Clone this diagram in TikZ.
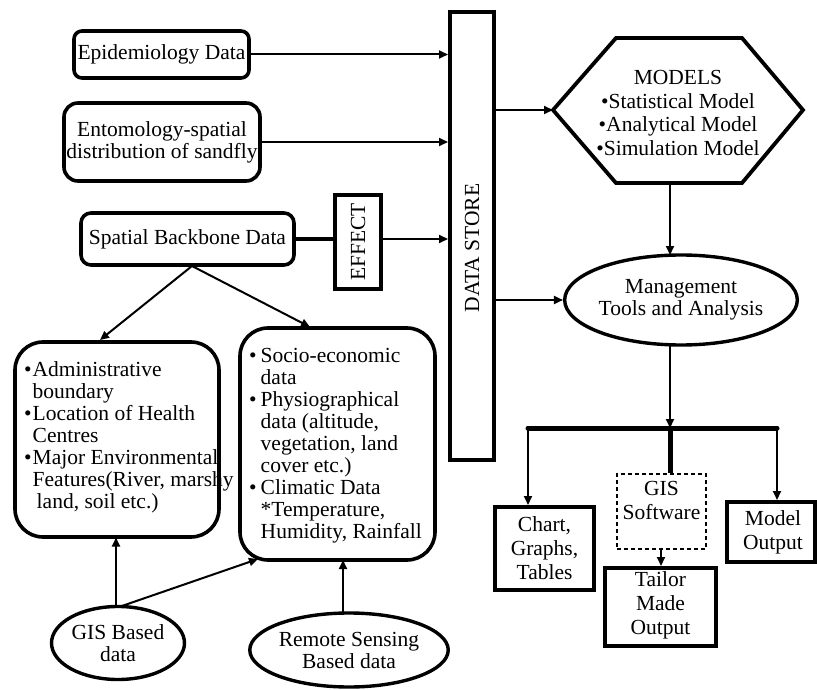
\documentclass[tikz,border=0pt]{standalone}
\usepackage{fontspec}
\setmainfont{Liberation Serif}
\usetikzlibrary{arrows.meta,shapes.geometric}
\begin{document}
\begin{tikzpicture}[x=1pt,y=-1pt,
  font=\fontsize{21.5}{22}\selectfont,
  rbox/.style={draw, line width=3.6pt, inner sep=0pt, align=center},
  sbox/.style={draw, line width=4pt, inner sep=0pt, align=center},
  dbox/.style={draw, line width=1.8pt, dash pattern=on 4pt off 3pt, inner sep=0pt, align=center},
  ell/.style={ellipse, draw, line width=3.4pt, inner sep=0pt, align=center},
  arr/.style={line width=2pt, -{Triangle[length=9pt,width=8pt]}},
  thickln/.style={line width=4pt},
  txt/.style={inner sep=0pt, align=center},
  lst/.style={inner sep=0pt, anchor=north west}]
\useasboundingbox (0,0) rectangle (817,690);

% left input boxes
\node[rbox, rounded corners=8pt, minimum width=175pt, minimum height=47pt] (epi) at (161.5,54.5) {Epidemiology Data};
\node[rbox, rounded corners=14pt, minimum width=196pt, minimum height=78pt] (ento) at (162,142) {Entomology-spatial\\distribution of sandfly};
\node[rbox, rounded corners=10pt, minimum width=213pt, minimum height=52pt] (spat) at (187.5,239) {Spatial Backbone Data};
\node[sbox, minimum width=46pt, minimum height=94pt] (eff) at (358,242) {};
\node[txt, rotate=90] (efft) at (358,242) {EFFECT};

% data store
\node[sbox, line width=4pt, minimum width=44pt, minimum height=448pt] (ds) at (472,236) {};
\node[txt, rotate=90] (dst) at (472,248) {DATA STORE};

% connectors into data store
\draw[arr] (epi.east) -- (epi.east -| ds.west);
\draw[arr] (ento.east) -- (ento.east -| ds.west);
\draw[thickln] (spat.east) -- (spat.east -| eff.west);
\draw[arr] (spat.east -| eff.east) -- (spat.east -| ds.west);

% models hexagon
\coordinate (hL) at (553,110);
\coordinate (hB) at (670,183);
\draw[line width=3.8pt, line join=miter] (hL) -- (616,38) -- (742,38) -- (803,110) -- (742,183) -- (616,183) -- cycle;
\node[txt, font=\fontsize{21.5}{23.5}\selectfont] (models) at (678,113) {MODELS\\\textbullet Statistical Model\\\textbullet Analytical Model\\\textbullet Simulation Model};

\node[ell, minimum width=222pt, minimum height=90pt] (mgmt) at (681,300) {Management\\Tools and Analysis};

\draw[arr] (hL -| ds.east) -- (hL);
\draw[arr] (hB) -- (670,255);
\draw[arr] (mgmt.west -| ds.east) -- (mgmt.west);

% output distribution
\coordinate (barL) at (528,428);
\coordinate (barM) at (670,428);
\coordinate (barR) at (777,428);
\draw[arr] (670,345) -- (barM);
\draw[line width=5pt, line cap=round] (barL) -- (barR);

\node[sbox, minimum width=99pt, minimum height=83pt] (chart) at (544.5,548.5) {};
\node[txt, font=\fontsize{21.5}{24}\selectfont] (chartt) at (544.5,548) {Chart,\\Graphs,\\Tables};
\node[dbox, minimum width=89pt, minimum height=75pt] (gis) at (661.5,511.5) {};
\node[txt, font=\fontsize{21.5}{24}\selectfont] (gist) at (661.5,500) {GIS\\Software};
\node[sbox, minimum width=111pt, minimum height=78pt] (tail) at (660.5,607) {};
\node[txt, font=\fontsize{21.5}{24}\selectfont] (tailt) at (660.5,605) {Tailor\\Made\\Output};
\node[sbox, minimum width=88pt, minimum height=60pt] (mout) at (771,532) {};
\node[txt, font=\fontsize{21.5}{24}\selectfont] (moutt) at (773,532) {Model\\Output};

\draw[arr] (barL) -- (barL |- chart.north);
\draw[line width=5pt] (barM) -- (barM |- gis.north);
\draw[arr] (barR) -- (barR |- mout.north);
\draw[arr] (661,549) -- (tail.north -| 661,0);

% lower-left boxes
\node[rbox, rounded corners=28pt, minimum width=204pt, minimum height=195pt] (adm) at (117,439.5) {};
\node[lst] (admt) at (24,361) {\begin{tabular}{@{}l@{\hspace{1pt}}l@{}}
\textbullet&Administrative\\
&boundary\\
\textbullet&Location of Health\\
&Centres\\
\textbullet&Major Environmental\\
&Features(River, marshy\\
&\hspace{4pt}land, soil etc.)
\end{tabular}};

\node[rbox, rounded corners=28pt, minimum width=195pt, minimum height=232pt] (soc) at (337.5,444) {};
\node[lst] (soct) at (249,347) {\begin{tabular}{@{}l@{\hspace{4pt}}l@{}}
\textbullet&Socio-economic\\
&data\\
\textbullet&Physiographical\\
&data (altitude,\\
&vegetation, land\\
&cover etc.)\\
\textbullet&Climatic Data\\
&*Temperature,\\
&Humidity, Rainfall
\end{tabular}};

\draw[arr] (192,266) -- (100,340);
\draw[arr] (192,266) -- (310,327);

% ellipses
\node[ell, minimum width=133pt, minimum height=73pt] (gisd) at (118,643) {GIS Based\\data};
\node[ell, minimum width=195pt, minimum height=74pt] (rsd) at (349,650) {Remote Sensing\\Based data};

\draw[arr] (116,607) -- (116,537.5);
\draw[arr] (119,607) -- (258,559);
\draw[arr] (343,613) -- (343,560);
\end{tikzpicture}
\end{document}
